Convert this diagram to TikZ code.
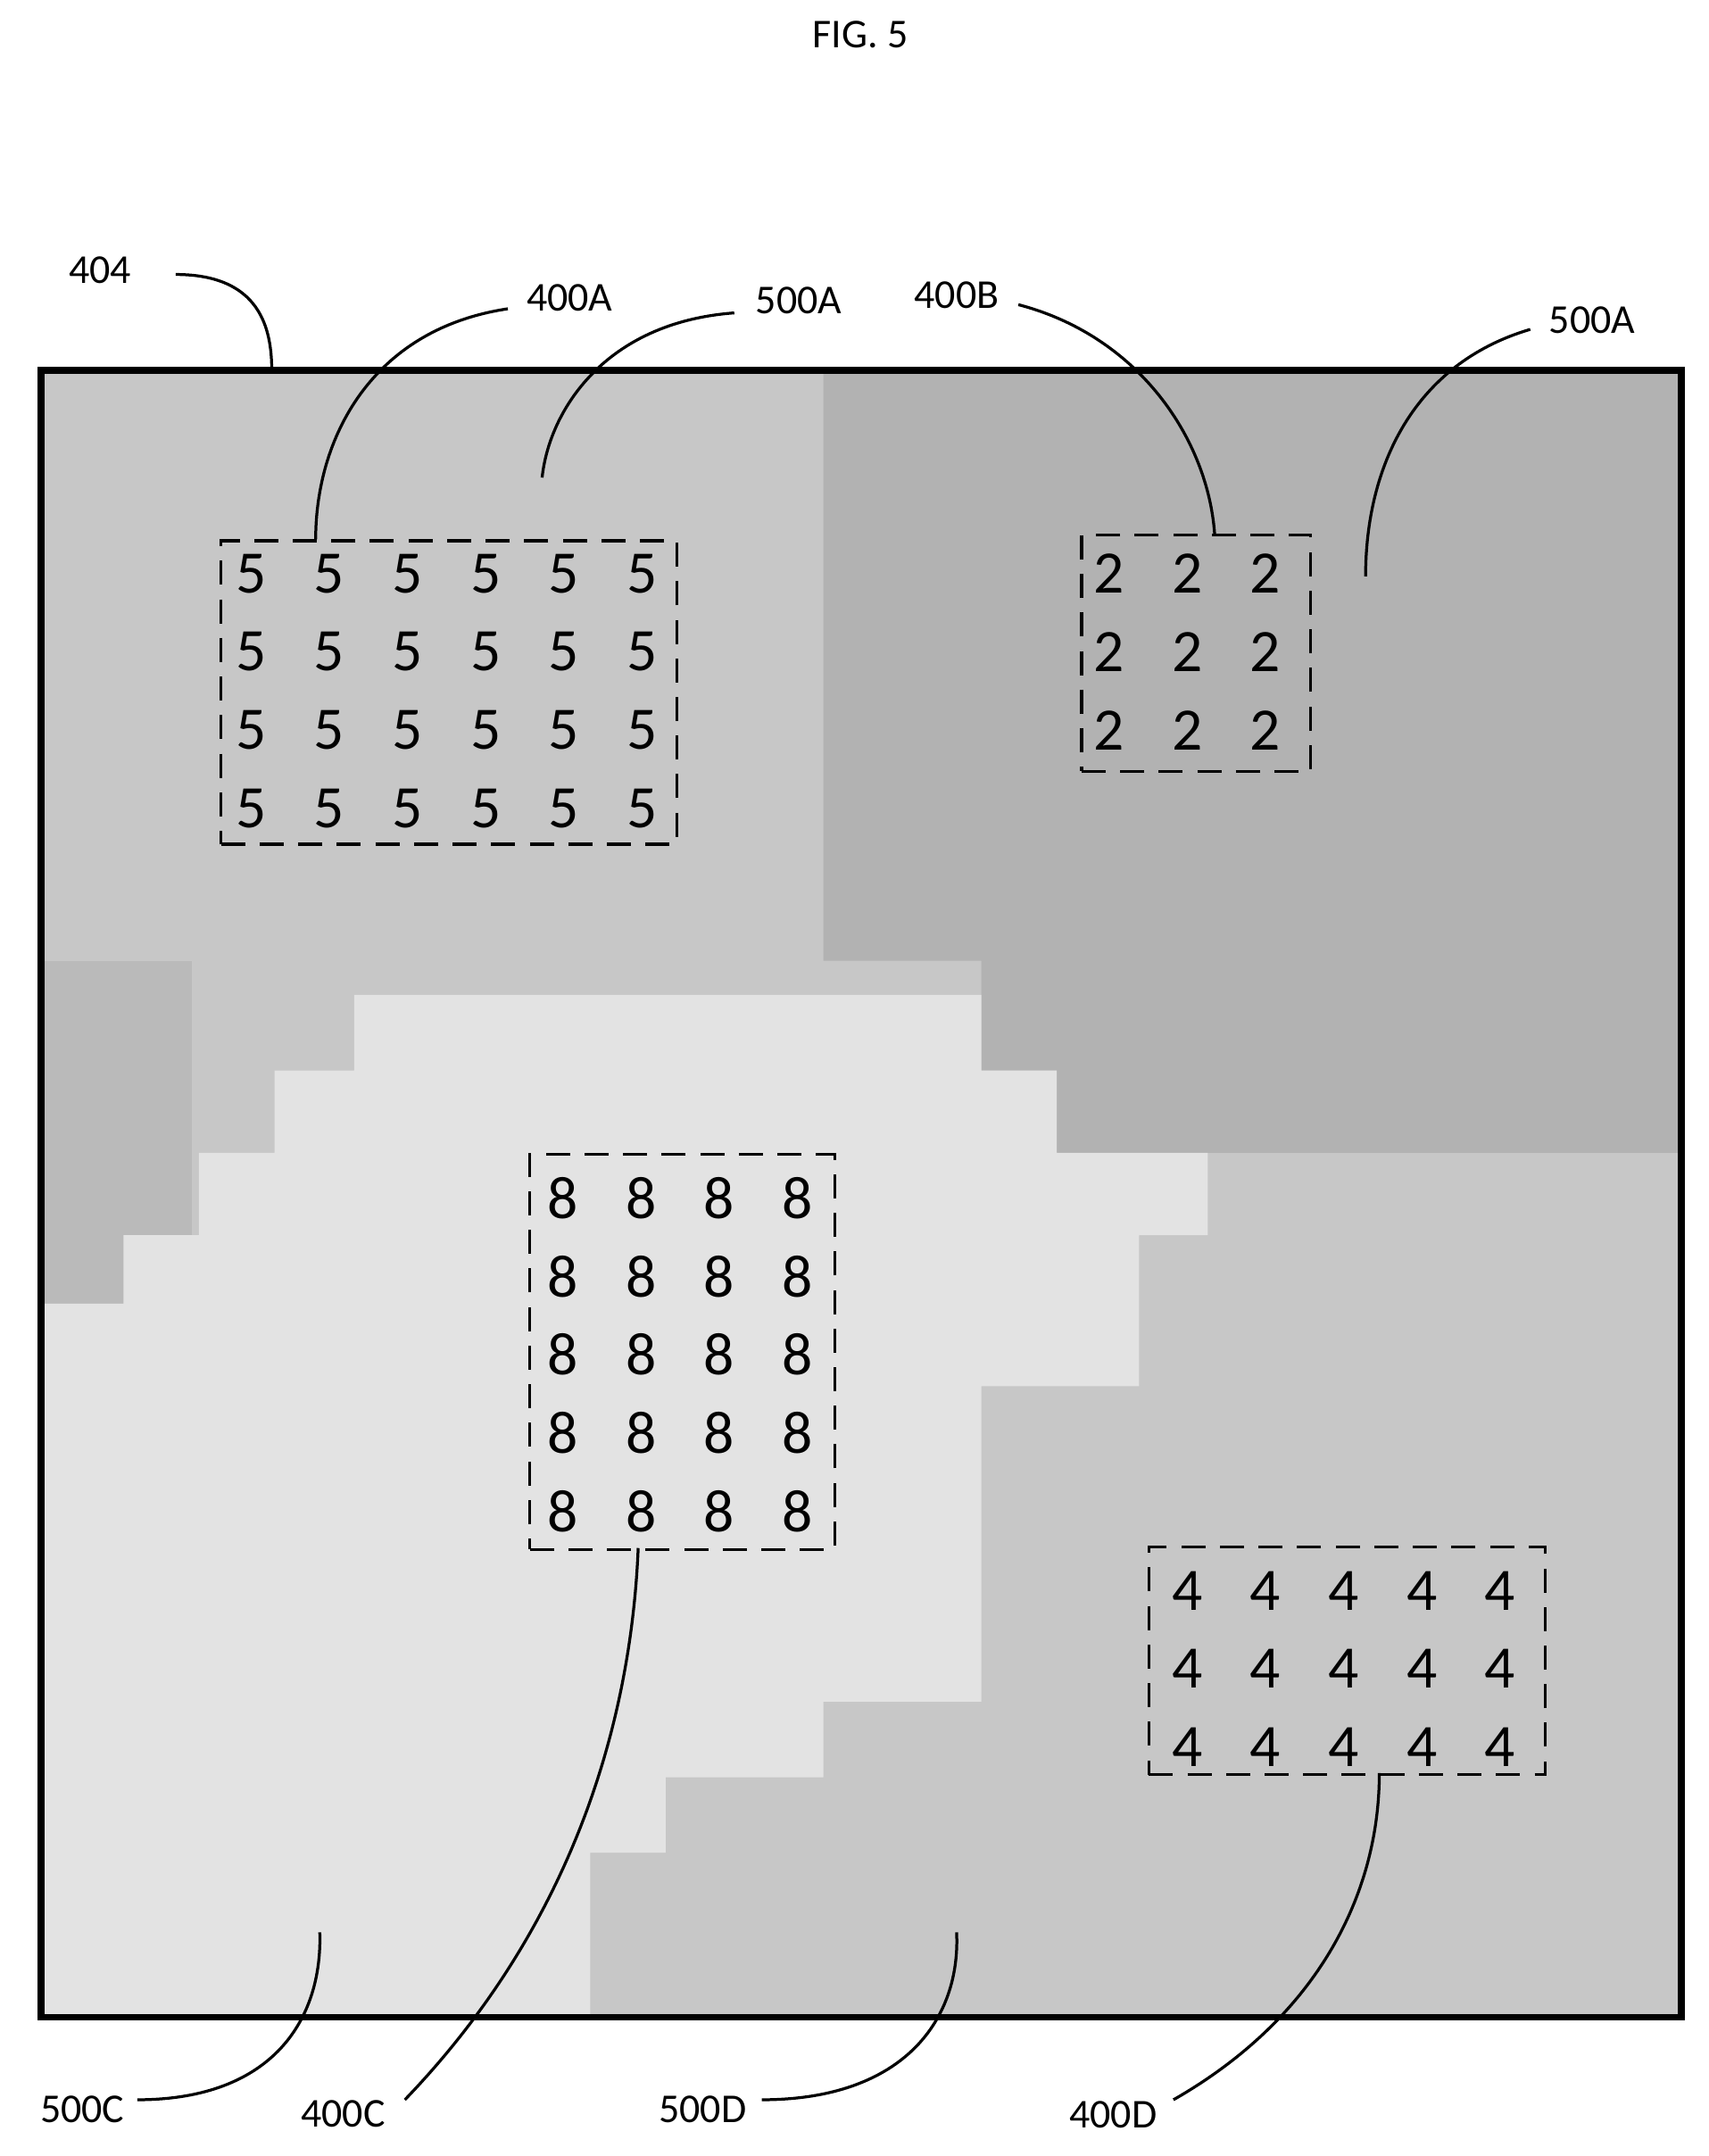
\documentclass[tikz,border=0pt]{standalone}
\usepackage{fontspec}
\setmainfont{Carlito}
\begin{document}
\begin{tikzpicture}[x=0.02cm,y=-0.02cm,
  lbl/.style={font=\fontsize{17}{19}\selectfont},
  dig/.style={font=\fontsize{25}{27}\selectfont},
  dbox/.style={draw,dash pattern=on 10pt off 6pt,line width=1.2pt},
  lead/.style={line width=1.2pt}]
\useasboundingbox (0,0) rectangle (1245,1571);
\fill[white] (0,0) rectangle (1245,1571);
% regions
\fill[black!22] (30,270) rectangle (1225,1470);
\fill[black!30] (600,270) -- (1225,270) -- (1225,840) -- (770,840) -- (770,780) -- (715,780) -- (715,700) -- (600,700) -- cycle;
\fill[black!27] (30,700) rectangle (140,950);
\fill[black!11] (258,725) -- (715,725) -- (715,780) -- (770,780) -- (770,840) -- (880,840) -- (880,900) -- (830,900) -- (830,1010) -- (715,1010) -- (715,1240) -- (600,1240) -- (600,1295) -- (485,1295) -- (485,1350) -- (430,1350) -- (430,1470) -- (30,1470) -- (30,950) -- (90,950) -- (90,900) -- (145,900) -- (145,840) -- (200,840) -- (200,780) -- (258,780) -- cycle;
\draw[line width=2.8pt] (30,270) rectangle (1225,1470);
% boxes
\node[dbox,minimum width=332*0.02cm,minimum height=221*0.02cm,anchor=north west] (A) at (160,393) {};
\node[dbox,minimum width=167*0.02cm,minimum height=172*0.02cm,anchor=north west] (B) at (787,389) {};
\node[dbox,minimum width=222*0.02cm,minimum height=288*0.02cm,anchor=north west] (C) at (385,840) {};
\node[dbox,minimum width=289*0.02cm,minimum height=166*0.02cm,anchor=north west] (D) at (836,1126) {};
\foreach \i in {0,...,5}\foreach \j in {0,...,3}
  \node[dig] (a\i\j) at (183+57*\i,418+57*\j) {5};
\foreach \i in {0,...,2}\foreach \j in {0,...,2}
  \node[dig] (b\i\j) at (808+57*\i,418+57*\j) {2};
\foreach \i in {0,...,3}\foreach \j in {0,...,4}
  \node[dig] (c\i\j) at (410+57*\i,873+57*\j) {8};
\foreach \i in {0,...,4}\foreach \j in {0,...,2}
  \node[dig] (d\i\j) at (865+57*\i,1159+57*\j) {4};
% labels
\node[lbl] (fig) at (627,25) {FIG. 5};
\node[lbl] (l404) at (73,197) {404};
\node[lbl] (l400A) at (415,217) {400A};
\node[lbl] (l500A) at (582,219) {500A};
\node[lbl] (l400B) at (697,215) {400B};
\node[lbl] (l500A2) at (1160,233) {500A};
\node[lbl] (l500C) at (60,1537) {500C};
\node[lbl] (l400C) at (250,1540) {400C};
\node[lbl] (l500D) at (512,1537) {500D};
\node[lbl] (l400D) at (811,1541) {400D};
\coordinate (p1) at (198,270);
\coordinate (p2) at (230,393);
\coordinate (p3) at (395,348);
\coordinate (p4) at (885,389);
\coordinate (p5) at (995,420);
\coordinate (p6) at (465,1128);
\coordinate (p7) at (233,1408);
\coordinate (p8) at (697,1408);
\coordinate (p9) at (1005,1292);
\draw[lead] (128,200) .. controls (190,200) and (198,240) .. (p1);
\draw[lead] (370,225) .. controls (270,240) and (230,320) .. (p2);
\draw[lead] (535,228) .. controls (440,235) and (400,300) .. (p3);
\draw[lead] (742,222) .. controls (830,245) and (880,320) .. (p4);
\draw[lead] (1115,240) .. controls (1030,265) and (995,340) .. (p5);
\draw[lead] (295,1530) .. controls (420,1400) and (460,1250) .. (p6);
\draw[lead] (100,1530) .. controls (200,1530) and (235,1470) .. (p7);
\draw[lead] (555,1530) .. controls (660,1530) and (700,1470) .. (p8);
\draw[lead] (855,1530) .. controls (960,1470) and (1005,1380) .. (p9);
\end{tikzpicture}
\end{document}
